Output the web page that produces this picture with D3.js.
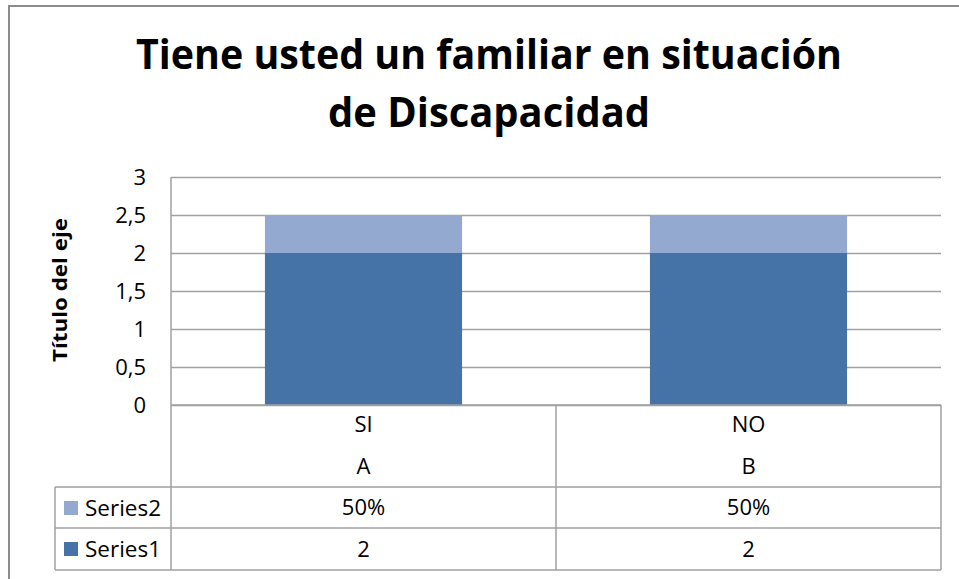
<!DOCTYPE html>
<html>
<head>
<meta charset="utf-8">
<script src="https://cdn.jsdelivr.net/npm/d3@7"></script>
<style>
  body { margin: 0; background: #fff; }
  svg { display: block; font-family: "Open Sans", Lato, sans-serif; }
</style>
</head>
<body>
<svg id="chart" width="959" height="579"></svg>
<script>
// chart data
const categories = ["SI", "NO"];
const subCategories = ["A", "B"];
const series1 = [2, 2];
const series2 = [0.5, 0.5];
const seriesNames = ["Series1", "Series2"];
const yTicks = [0, 0.5, 1, 1.5, 2, 2.5, 3];
const titleLines = ["Tiene usted un familiar en situación", "de Discapacidad"];
const yTitle = "Título del eje";

const colors = { Series1: "#4572a7", Series2: "#94a9cf" };
const lineColor = "#a0a0a0";

const svg = d3.select("#chart");

// outer chart border (only top/left visible)
svg.append("path")
    .attr("d", "M9,579 V6 H959")
    .attr("fill", "none")
    .attr("stroke", "#8c8c8c")
    .attr("stroke-width", 2);

// title
svg.append("g").selectAll("text")
    .data(titleLines)
    .enter().append("text")
    .attr("x", 489)
    .attr("y", (d, i) => 69 + i * 58)
    .attr("text-anchor", "middle")
    .attr("font-weight", "bold")
    .attr("font-size", "42px")
    .attr("textLength", (d, i) => i === 0 ? 706 : 322)
    .attr("lengthAdjust", "spacingAndGlyphs")
    .attr("fill", "#000")
    .text(d => d);

// plot area
const plotLeft = 171, plotRight = 941, plotTop = 177, plotBottom = 405;

const x = d3.scaleBand()
    .domain(categories)
    .range([plotLeft, plotRight])
    .paddingInner(0.488)
    .paddingOuter(0.244);

const y = d3.scaleLinear()
    .domain([0, 3])
    .range([plotBottom, plotTop]);

// gridlines
svg.append("g").selectAll("line")
    .data(yTicks)
    .enter().append("line")
    .attr("x1", plotLeft)
    .attr("x2", plotRight)
    .attr("y1", d => Math.round(y(d)) + 0.5)
    .attr("y2", d => Math.round(y(d)) + 0.5)
    .attr("stroke", lineColor)
    .attr("stroke-width", 1.5);

// y axis labels
const yAxis = svg.append("g")
    .attr("transform", "translate(" + plotLeft + ",0)")
    .call(d3.axisLeft(y)
        .tickValues(yTicks)
        .tickSize(0)
        .tickPadding(25)
        .tickFormat(d => String(d).replace(".", ",")));
yAxis.select(".domain").remove();
yAxis.selectAll("text")
    .attr("font-family", "'Open Sans', Lato, sans-serif")
    .attr("font-size", "22px")
    .attr("fill", "#000");

// y axis title
svg.append("text")
    .attr("transform", "translate(67,290) rotate(-90)")
    .attr("text-anchor", "middle")
    .attr("font-weight", "bold")
    .attr("font-size", "19px")
    .attr("textLength", 144)
    .attr("lengthAdjust", "spacingAndGlyphs")
    .attr("fill", "#000")
    .text(yTitle);

// stacked bars
const rows = categories.map((c, i) => ({ cat: c, Series1: series1[i], Series2: series2[i] }));
const stack = d3.stack().keys(seriesNames)(rows);

svg.append("g").selectAll("g")
    .data(stack)
    .enter().append("g")
    .attr("fill", d => colors[d.key])
    .selectAll("rect")
    .data(d => d)
    .enter().append("rect")
    .attr("x", d => x(d.data.cat))
    .attr("width", x.bandwidth())
    .attr("y", d => y(d[1]))
    .attr("height", d => y(d[0]) - y(d[1]));

// data table
const tableLeft = 55;
const rowY = [405, 487, 528, 570];
const tbl = svg.append("g")
    .attr("stroke", lineColor)
    .attr("stroke-width", 1.5);

tbl.append("line").attr("x1", plotLeft).attr("x2", plotRight).attr("y1", rowY[0]).attr("y2", rowY[0]);
rowY.slice(1).forEach(yy => {
    tbl.append("line").attr("x1", tableLeft).attr("x2", plotRight).attr("y1", yy).attr("y2", yy);
});
tbl.append("line").attr("x1", tableLeft).attr("x2", tableLeft).attr("y1", rowY[1]).attr("y2", rowY[3]);
tbl.append("line").attr("x1", plotLeft).attr("x2", plotLeft).attr("y1", plotTop).attr("y2", rowY[3]);
const midX = (x(categories[0]) + x.bandwidth() / 2 + x(categories[1]) + x.bandwidth() / 2) / 2;
tbl.append("line").attr("x1", midX).attr("x2", midX).attr("y1", rowY[0]).attr("y2", rowY[3]);
tbl.append("line").attr("x1", plotRight).attr("x2", plotRight).attr("y1", rowY[0]).attr("y2", rowY[3]);

const cellText = svg.append("g")
    .attr("font-size", "22px")
    .attr("fill", "#000")
    .attr("text-anchor", "middle");

const pct = d3.format(".0%");
categories.forEach((c, i) => {
    const cx = x(c) + x.bandwidth() / 2;
    cellText.append("text").attr("x", cx).attr("y", 432).text(c);
    cellText.append("text").attr("x", cx).attr("y", 474).text(subCategories[i]);
    cellText.append("text").attr("x", cx).attr("y", 515).text(pct(series2[i]));
    cellText.append("text").attr("x", cx).attr("y", 557).text(series1[i]);
});

// legend keys in table
const legendRows = [
    { name: "Series2", y: 508 },
    { name: "Series1", y: 549 }
];
const leg = svg.append("g").selectAll("g")
    .data(legendRows)
    .enter().append("g");
leg.append("rect")
    .attr("x", 64)
    .attr("y", d => d.y - 7)
    .attr("width", 14)
    .attr("height", 14)
    .attr("fill", d => colors[d.name]);
leg.append("text")
    .attr("x", 85)
    .attr("y", d => d.y + 8)
    .attr("font-size", "22px")
    .attr("textLength", 76)
    .attr("lengthAdjust", "spacingAndGlyphs")
    .attr("fill", "#000")
    .text(d => d.name);
</script>
</body>
</html>
